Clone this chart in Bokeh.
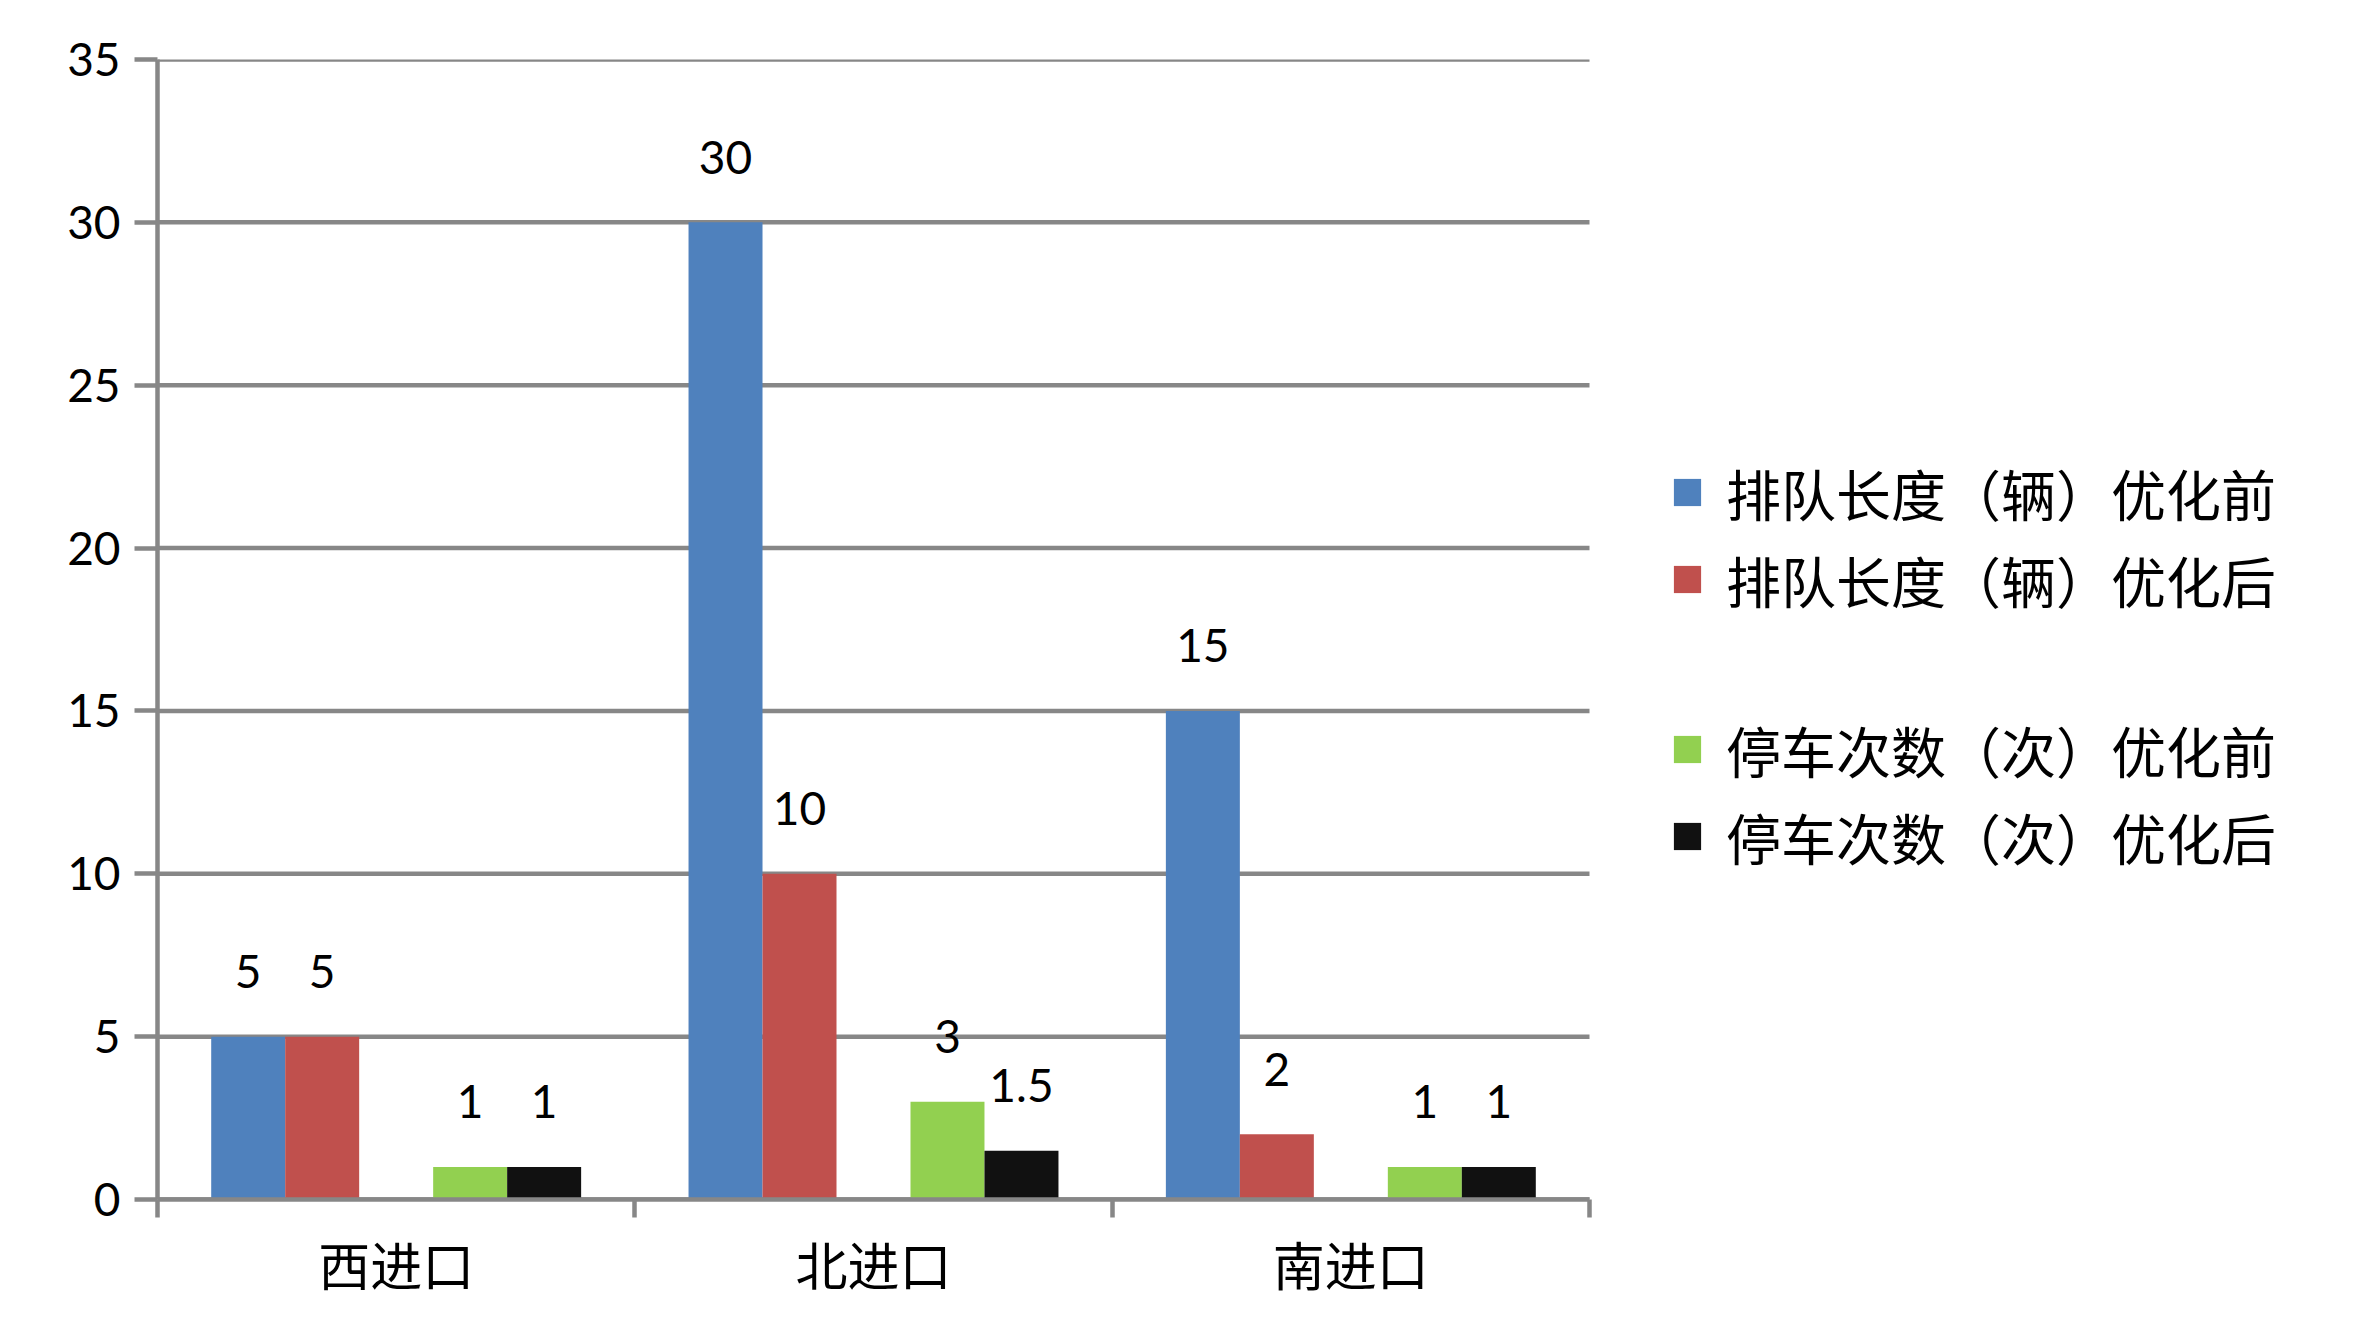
from bokeh.plotting import figure
from bokeh.models import (Range1d, FixedTicker, Legend, LegendItem, ColumnDataSource)
from bokeh.core.properties import value
from bokeh.embed import file_html
from bokeh.resources import INLINE

categories = ["西进口", "北进口", "南进口"]
series_names = ["排队长度（辆）优化前", "排队长度（辆）优化后", "停车次数（次）优化前", "停车次数（次）优化后"]
queue_before = [5, 30, 15]
queue_after = [5, 10, 2]
stops_before = [1, 3, 1]
stops_after = [1, 1.5, 1]
y_ticks = [0, 5, 10, 15, 20, 25, 30, 35]

series_values = [queue_before, queue_after, stops_before, stops_after]
colors = ["#4F81BD", "#C0504D", "#92D050", "#111111"]
offsets = [-0.31, -0.155, 0.155, 0.31]
bar_w = 0.155
grid_col = "#878787"
num_font = "Lato"
cjk_font = "Noto Sans CJK SC"

n = len(categories)
plot_px = 1432          # pixel width of the category area
frame_w = 2180          # frame extends to the right to hold the legend
x_end = n * frame_w / plot_px

p = figure(frame_width=frame_w, frame_height=1140,
           min_border_left=157, min_border_top=59, min_border_right=1, min_border_bottom=120,
           x_range=Range1d(0, x_end), y_range=Range1d(0, 35),
           output_backend="svg", toolbar_location=None, background_fill_color="white")
p.outline_line_color = None
p.xgrid.grid_line_color = None
p.ygrid.grid_line_color = None

# horizontal gridlines limited to the category area
p.segment(x0=[0] * len(y_ticks), x1=[n] * len(y_ticks), y0=y_ticks, y1=y_ticks,
          line_color=grid_col, line_width=4.5)

renderers = []
for vals, col, off, name in zip(series_values, colors, offsets, series_names):
    xs = [i + 0.5 + off for i in range(n)]
    src = ColumnDataSource(dict(x=xs, top=vals, lab=[("%g" % v) for v in vals]))
    r = p.vbar(x="x", top="top", bottom=0, width=bar_w, source=src, fill_color=col, line_color=None)
    renderers.append(r)
    p.text(x="x", y="top", text="lab", source=src, y_offset=-65, text_align="center",
           text_baseline="middle", text_font=value(num_font), text_font_size="46px", text_color="black")

# y axis
ya = p.yaxis[0]
ya.ticker = FixedTicker(ticks=y_ticks, minor_ticks=[])
ya.axis_line_color = grid_col
ya.axis_line_width = 4.5
ya.major_tick_line_color = grid_col
ya.major_tick_line_width = 4.5
ya.major_tick_out = 23
ya.major_tick_in = 0
ya.minor_tick_line_color = None
ya.major_label_standoff = 14
ya.major_label_text_font = num_font
ya.major_label_text_font_size = "46px"
ya.major_label_text_color = "black"

# x axis
xa = p.xaxis[0]
xa.bounds = (0, n)
xa.ticker = FixedTicker(ticks=[i + 0.5 for i in range(n)], minor_ticks=list(range(n + 1)))
xa.major_label_overrides = {i + 0.5: c for i, c in enumerate(categories)}
xa.axis_line_color = grid_col
xa.axis_line_width = 4.5
xa.major_tick_line_color = None
xa.major_tick_out = 0
xa.major_tick_in = 0
xa.minor_tick_line_color = grid_col
xa.minor_tick_line_width = 4.5
xa.minor_tick_out = 18
xa.minor_tick_in = 0
xa.major_label_standoff = 8
xa.major_label_text_font = cjk_font
xa.major_label_text_font_size = "52px"
xa.major_label_text_color = "black"

def make_legend(items, loc):
    return Legend(items=items, location=loc, orientation="vertical",
                  glyph_width=34, glyph_height=34, label_height=60, spacing=7,
                  label_standoff=22, padding=0, margin=0,
                  border_line_color=None, background_fill_alpha=0,
                  label_text_font=cjk_font, label_text_font_size="55px", label_text_color="black")

lg1 = make_legend([LegendItem(label=series_names[0], renderers=[renderers[0]]),
                   LegendItem(label=series_names[1], renderers=[renderers[1]])], (1513, 580))
lg2 = make_legend([LegendItem(label=series_names[2], renderers=[renderers[2]]),
                   LegendItem(label=series_names[3], renderers=[renderers[3]])], (1513, 323))
p.add_layout(lg1, "center")
p.add_layout(lg2, "center")

open("out.html", "w").write(file_html(p, INLINE))
